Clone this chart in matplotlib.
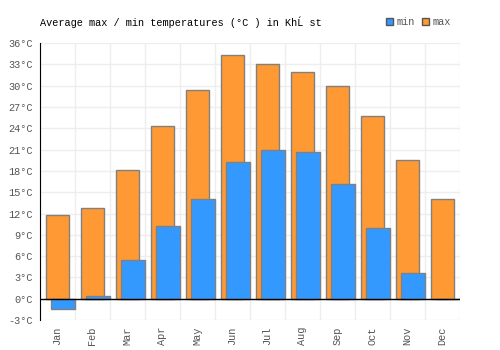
import matplotlib
matplotlib.use('Agg')
import matplotlib.pyplot as plt
from matplotlib.patches import Patch
import numpy as np

months = ['Jan', 'Feb', 'Mar', 'Apr', 'May', 'Jun', 'Jul', 'Aug', 'Sep', 'Oct', 'Nov', 'Dec']
t_max = [11.8, 12.8, 18.1, 24.3, 29.4, 34.4, 33.0, 32.0, 29.9, 25.7, 19.6, 14.1]
t_min = [-1.4, 0.4, 5.4, 10.3, 14.1, 19.3, 20.9, 20.6, 16.1, 10.0, 3.6, -0.1]

plt.rcParams['font.family'] = ['Liberation Mono', 'DejaVu Sans Mono']
fig = plt.figure(figsize=(5, 3.5), dpi=100)
ax = fig.add_axes([0.08, 0.0857, 0.84, 0.791])

x = np.arange(len(months))
ax.bar(x, t_max, width=0.66, color='#ff9933', edgecolor='#808080', linewidth=1, zorder=2)
ax.bar(x + 0.16, t_min, width=0.69, color='#3399ff', edgecolor='#808080', linewidth=1, zorder=3)

ax.set_xlim(-0.5, 11.5)
ax.set_ylim(-3, 36)
ax.set_yticks(range(-3, 37, 3))
ax.set_yticklabels(['%d°C' % v for v in range(-3, 37, 3)], fontsize=7.4, color='#555555')
ax.set_xticks(x)
ax.set_xticklabels(months, rotation=90, fontsize=7.4, color='#555555')
ax.set_xticks(np.arange(-0.5, 12, 1), minor=True)
ax.tick_params(axis='x', which='both', length=0, pad=5)
ax.tick_params(axis='y', length=0, pad=5)
ax.grid(True, axis='y', color='#eeeeee', linewidth=1, zorder=0)
ax.grid(True, axis='x', which='minor', color='#eeeeee', linewidth=1, zorder=0)
ax.grid(False, axis='x', which='major')
for s in ['top', 'right', 'bottom']:
    ax.spines[s].set_visible(False)
ax.spines['left'].set_color('black')
ax.axhline(0, color='black', linewidth=1.0, zorder=4)

fig.text(0.08, 0.937, 'Average max / min temperatures (°C ) in KhĹ st', fontsize=7.4, va='center')
handles = [Patch(facecolor='#3399ff', edgecolor='#555555', label='min'),
           Patch(facecolor='#ff9933', edgecolor='#555555', label='max')]
fig.legend(handles=handles, loc='center right', bbox_to_anchor=(0.92, 0.937), ncol=2, frameon=False,
           fontsize=7.4, handlelength=0.7, handleheight=0.7, handletextpad=0.3, columnspacing=0.7,
           labelcolor='#555555')

plt.savefig('out.png')
